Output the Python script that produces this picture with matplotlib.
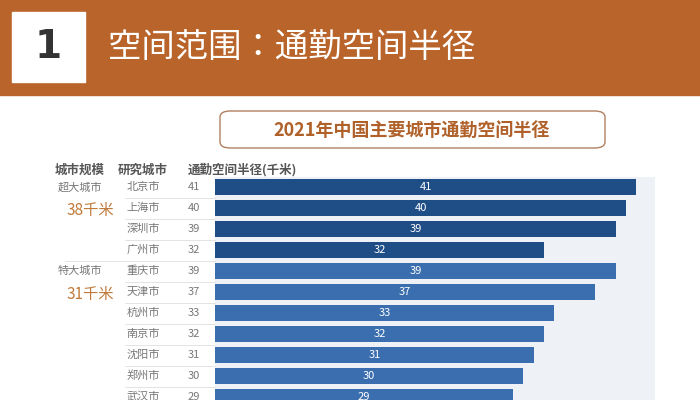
import matplotlib.pyplot as plt
from matplotlib.patches import FancyBboxPatch, Rectangle

plt.rcParams["font.family"] = ["Noto Sans CJK JP", "Noto Sans CJK SC", "Noto Sans CJK TC",
                               "Noto Sans CJK KR", "DejaVu Sans"]

cities = ["北京市", "上海市", "深圳市", "广州市", "重庆市", "天津市",
          "杭州市", "南京市", "沈阳市", "郑州市", "武汉市"]
radius = [41, 40, 39, 32, 39, 37, 33, 32, 31, 30, 29]
group_names = ["超大城市", "特大城市"]
group_avg = ["38千米", "31千米"]
group_start = [0, 4]

W, H = 700, 400
fig = plt.figure(figsize=(7, 4), dpi=100)
fig.patch.set_facecolor("white")


def px(x, y):
    return x / W, 1 - y / H


orange = "#b9642a"
# header banner
fig.patches.append(Rectangle(px(0, 95), 1, 95 / H, transform=fig.transFigure,
                             color=orange, zorder=0))
fig.patches.append(Rectangle(px(12, 82), 73 / W, 70 / H, transform=fig.transFigure,
                             color="white", zorder=1))
fig.text(*px(48, 47), "1", fontsize=28, fontweight="bold", color="#333333",
         ha="center", va="center", family="DejaVu Sans")
fig.text(*px(108, 47), "空间范围：通勤空间半径", fontsize=24, color="white",
         ha="left", va="center")

# title box
fig.patches.append(FancyBboxPatch(px(220, 148), 385 / W, 37 / H,
                                  boxstyle="round,pad=0,rounding_size=0.015",
                                  transform=fig.transFigure, fc="white",
                                  ec="#b08060", lw=1))
fig.text(*px(412, 130), "2021年中国主要城市通勤空间半径", fontsize=13,
         fontweight="bold", color="#b0612a", ha="center", va="center")

# column headers
fig.text(*px(80, 170), "城市规模", fontsize=9, fontweight="bold", color="#555555",
         ha="center", va="center")
fig.text(*px(143, 170), "研究城市", fontsize=9, fontweight="bold", color="#555555",
         ha="center", va="center")
fig.text(*px(188, 170), "通勤空间半径(千米)", fontsize=9, fontweight="bold",
         color="#555555", ha="left", va="center")

# bars
top, bottom = 176.5, 400
ax = fig.add_axes([215 / W, 0, 440 / W, (bottom - top) / H])
ax.set_facecolor("#eef2f7")
nrows = (bottom - top) / 21
ax.set_ylim(nrows - 0.5, -0.5)
ax.set_xlim(0, 42.8)
colors = ["#1f4d86" if i < group_start[1] else "#3b6eae" for i in range(len(cities))]
bars = ax.barh(range(len(cities)), radius, height=0.76, color=colors)
for b, v in zip(bars, radius):
    ax.text(v / 2, b.get_y() + b.get_height() / 2, str(v), color="white",
            fontsize=8, ha="center", va="center")
ax.set_xticks([])
ax.set_yticks([])
for s in ax.spines.values():
    s.set_visible(False)

for i, (c, v) in enumerate(zip(cities, radius)):
    y = 187 + 21 * i
    fig.text(*px(143, y), c, fontsize=8, color="#777777", ha="center", va="center")
    fig.text(*px(194, y), str(v), fontsize=8, color="#777777", ha="center", va="center")
    if i > 0:
        xs = (65 if i in group_start else 125) / W
        fig.add_artist(plt.Line2D([xs, 215 / W], [px(0, y - 10.5)[1]] * 2,
                                  color="#e4e4e4", lw=0.7))

for name, avg, s in zip(group_names, group_avg, group_start):
    y = 187 + 21 * s
    fig.text(*px(80, y), name, fontsize=8, color="#777777", ha="center", va="center")
    fig.text(*px(90, y + 23), avg, fontsize=11, color="#c07a3a", ha="center", va="center")

fig.savefig("out.png", dpi=100)
